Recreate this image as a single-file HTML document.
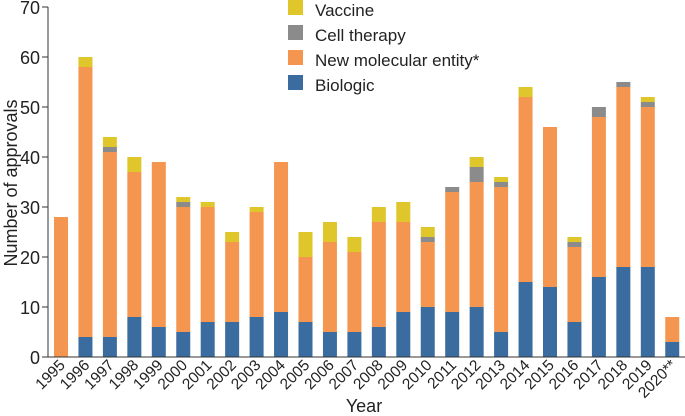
<!DOCTYPE html>
<html><head><meta charset="utf-8"><style>
body{margin:0;background:#fff}
svg{display:block;font-family:"Liberation Sans",Arial,sans-serif}
</style></head><body>
<svg id="chart" width="685" height="416">
<g id="bars"></g>
<g id="axes"></g>
<text transform="translate(17,183) rotate(-90)" text-anchor="middle" font-size="18" fill="#222">Number of approvals</text>
<text x="364" y="412" text-anchor="middle" font-size="18" fill="#222">Year</text>
<g font-size="17" fill="#222">
<rect x="288" y="0" width="15" height="15" fill="#dfc62b"/><text x="315" y="16">Vaccine</text>
<rect x="288" y="25" width="15" height="15" fill="#8b8b8b"/><text x="315" y="41">Cell therapy</text>
<rect x="288" y="50" width="15" height="15" fill="#f59650"/><text x="315" y="66">New molecular entity*</text>
<rect x="288" y="75" width="15" height="15" fill="#3b6ca0"/><text x="315" y="91">Biologic</text>
</g>
</svg>
<script>
const years=["1995","1996","1997","1998","1999","2000","2001","2002","2003","2004","2005","2006","2007","2008","2009","2010","2011","2012","2013","2014","2015","2016","2017","2018","2019","2020**"];
const biologic=[0,4,4,8,6,5,7,7,8,9,7,5,5,6,9,10,9,10,5,15,14,7,16,18,18,3];
const nme=[28,54,37,29,33,25,23,16,21,30,13,18,16,21,18,13,24,25,29,37,32,15,32,36,32,5];
const cell=[0,0,1,0,0,1,0,0,0,0,0,0,0,0,0,1,1,3,1,0,0,1,2,1,1,0];
const vaccine=[0,2,2,3,0,1,1,2,1,0,5,4,3,3,4,2,0,2,1,2,0,1,0,0,1,0];
const yTicks=[0,10,20,30,40,50,60,70];
const NS="http://www.w3.org/2000/svg";
const y0=357,k=5,x0=61,step=24.45,bw=14;
const yS=v=>y0-v*k, xS=i=>x0+i*step;
const bars=document.getElementById('bars'),axes=document.getElementById('axes');
function mk(t,a,p){const e=document.createElementNS(NS,t);for(const n in a)e.setAttribute(n,a[n]);p.appendChild(e);return e;}
const series=[["biologic",biologic,"#3b6ca0"],["nme",nme,"#f59650"],["cell",cell,"#8b8b8b"],["vaccine",vaccine,"#dfc62b"]];
years.forEach((yr,i)=>{let base=0;series.forEach(([nm,arr,c])=>{const v=arr[i];if(v>0){const r=mk('rect',{x:xS(i)-bw/2,y:yS(base+v),width:bw,height:v*k,fill:c},bars);

}base+=v;});
const t=mk('text',{transform:`translate(${xS(i)+5},${y0+9}) rotate(-45)`,'text-anchor':'end','font-size':'15.5',fill:'#222'},axes);t.textContent=yr;


});
const ya=mk('line',{x1:48,y1:yS(70),x2:48,y2:y0,stroke:'#333','stroke-width':1},axes);


const xa=mk('line',{x1:43,y1:y0,x2:685,y2:y0,stroke:'#333','stroke-width':1},axes);


yTicks.forEach(v=>{const l=mk('line',{x1:42,x2:48,y1:yS(v),y2:yS(v),stroke:'#333'},axes);


const t=mk('text',{x:40,y:yS(v)+7,'text-anchor':'end','font-size':'18',fill:'#222'},axes);t.textContent=v;

});
</script>
</body></html>
